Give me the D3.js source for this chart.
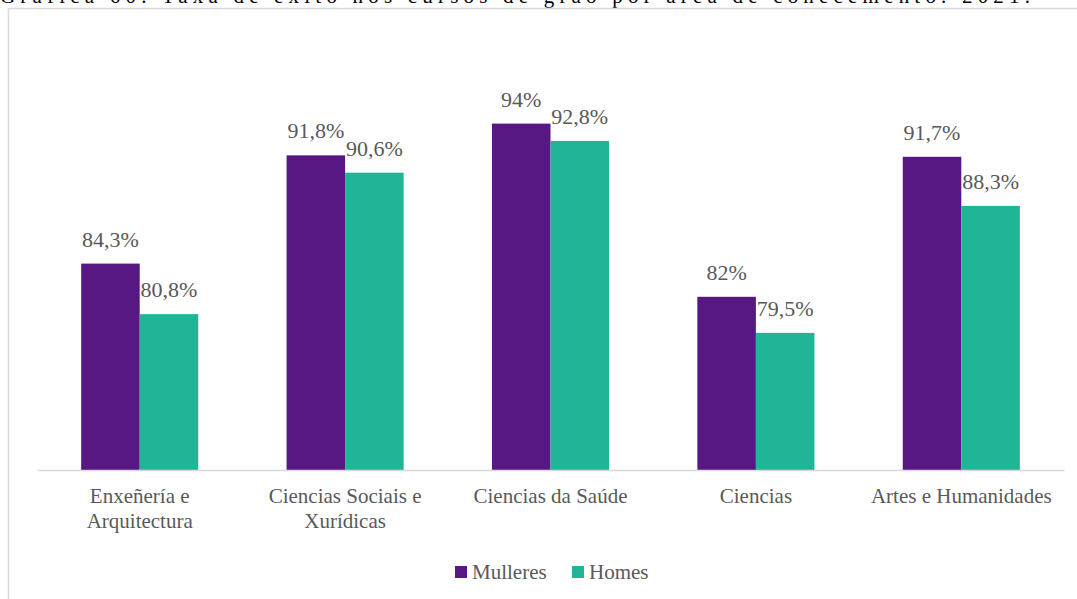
<!DOCTYPE html>
<html>
<head>
<meta charset="utf-8">
<script src="https://cdn.jsdelivr.net/npm/d3@7"></script>
<style>
  body { margin: 0; background: #fff; }
  svg { display: block; }
  svg text { font-family: 'Liberation Serif', 'DejaVu Serif', serif; }
</style>
</head>
<body>
<svg id="chart"></svg>
<script>
const categories = [
  ['Enxeñería e', 'Arquitectura'],
  ['Ciencias Sociais e', 'Xurídicas'],
  ['Ciencias da Saúde'],
  ['Ciencias'],
  ['Artes e Humanidades']
];
const seriesNames = ['Mulleres', 'Homes'];
const mulleres = [84.3, 91.8, 94, 82, 91.7];
const homes = [80.8, 90.6, 92.8, 79.5, 88.3];
const valueLabels = [
  ['84,3%', '91,8%', '94%', '82%', '91,7%'],
  ['80,8%', '90,6%', '92,8%', '79,5%', '88,3%']
];
const colors = ['#581884', '#20b597'];
const titleText = 'Gráfica 60. Taxa de éxito nos cursos de grao por área de coñecemento. 2021.';

const width = 1077, height = 599;
const margin = {top: 37, left: 37, right: 13, bottom: 129};
const innerW = width - margin.left - margin.right;
const innerH = height - margin.top - margin.bottom;
const textColor = '#595959';

const svg = d3.select('#chart').attr('width', width).attr('height', height);

// title of the page above, clipped by the top edge as in the source
svg.append('text')
  .attr('x', 0).attr('y', 3)
  .attr('textLength', 1030).attr('lengthAdjust', 'spacing')
  .style('font-size', '21px').style('fill', '#000')
  .text(titleText);

// chart frame
svg.append('rect')
  .attr('x', 8.5).attr('y', 8.5)
  .attr('width', width + 10).attr('height', height + 10)
  .attr('fill', 'none').attr('stroke', '#d9d9d9').attr('stroke-width', 1.5);

const chart = svg.append('g').attr('transform', `translate(${margin.left},${margin.top})`);

const idx = d3.range(categories.length);
const xScale = d3.scaleBand().domain(idx).range([0, innerW]).paddingInner(0.43).paddingOuter(0.215);
const xSub = d3.scaleBand().domain([0, 1]).range([0, xScale.bandwidth()]);
const yScale = d3.scaleLinear().domain([70, 100]).range([innerH, 0]);

const data = [];
idx.forEach(i => {
  data.push({cat: i, s: 0, v: mulleres[i], label: valueLabels[0][i]});
  data.push({cat: i, s: 1, v: homes[i], label: valueLabels[1][i]});
});

chart.selectAll('.bar')
  .data(data)
  .enter()
  .append('rect')
  .attr('class', 'bar')
  .attr('x', d => xScale(d.cat) + xSub(d.s))
  .attr('width', xSub.bandwidth())
  .attr('y', d => yScale(d.v))
  .attr('height', d => innerH - yScale(d.v))
  .attr('fill', d => colors[d.s]);

chart.selectAll('.val')
  .data(data)
  .enter()
  .append('text')
  .attr('class', 'val')
  .attr('x', d => xScale(d.cat) + xSub(d.s) + xSub.bandwidth() / 2)
  .attr('y', d => yScale(d.v) - 17)
  .attr('text-anchor', 'middle')
  .style('font-size', '22px')
  .style('fill', textColor)
  .text(d => d.label);

// x axis
const xAxis = d3.axisBottom(xScale).tickSize(0).tickFormat('');
const xAxisGroup = chart.append('g')
  .attr('transform', `translate(0,${innerH})`)
  .call(xAxis)
  .call(g => g.select('.domain').attr('stroke', '#d9d9d9').attr('stroke-width', 1.5));

xAxisGroup.selectAll('.tick').each(function(i) {
  const t = d3.select(this).append('text')
    .attr('text-anchor', 'middle')
    .attr('fill', textColor)
    .style('font-size', '21px');
  categories[i].forEach((line, k) => {
    t.append('tspan').attr('x', 0).attr('y', 33 + k * 25).text(line);
  });
});

// legend
const legend = svg.append('g').attr('transform', 'translate(455,566)');
const legendX = [0, 117];
seriesNames.forEach((name, i) => {
  const g = legend.append('g').attr('transform', `translate(${legendX[i]},0)`);
  g.append('rect').attr('width', 12).attr('height', 12).attr('fill', colors[i]);
  g.append('text')
    .attr('x', 17).attr('y', 13)
    .style('font-size', '21px').style('fill', textColor)
    .text(name);
});
</script>
</body>
</html>
